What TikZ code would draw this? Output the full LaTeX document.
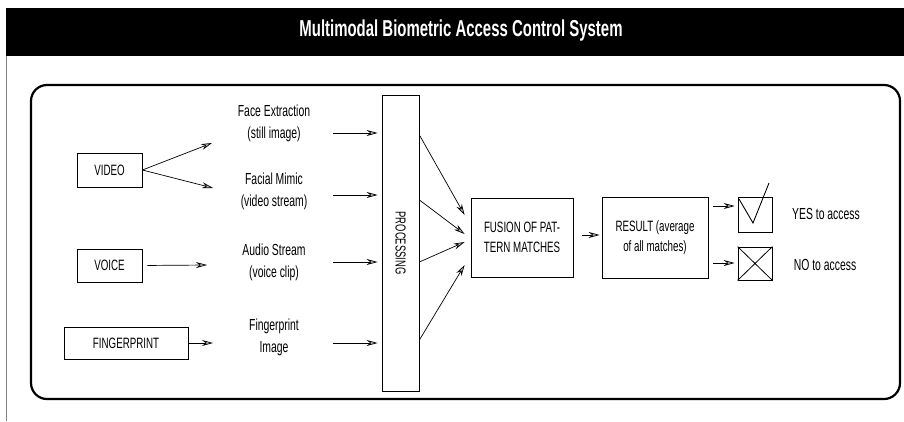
\documentclass[tikz,border=0pt]{standalone}
\usepackage{fontspec}
\setmainfont{Liberation Sans}[FakeStretch=0.65]
\usetikzlibrary{arrows.meta}

\tikzset{
  box/.style={draw, line width=0.8pt, inner sep=2pt, font=\fontsize{15}{20}\selectfont, align=center},
  lbl/.style={font=\fontsize{16}{22}\selectfont, align=center},
  arr/.style={line width=0.7pt, -{Stealth[length=11pt,width=6pt,fill=gray!50]}}
}

\begin{document}
\begin{tikzpicture}[x=1pt, y=-1pt]
 \useasboundingbox (0,0) rectangle (904,421);
 % title bar and frame
 \fill[black] (6,8) rectangle (904,56);
 \node (title) at (461,31) [text=white, font=\fontsize{23}{26}\bfseries] {Multimodal Biometric Access Control System};
 \draw[line width=0.6pt, gray] (6,56) -- (6,421);
 \draw[line width=2.2pt, rounded corners=16pt] (31,85) rectangle (900,399);

 % inputs
 \node (video) at (109.5,170)   [box, minimum width=65pt, minimum height=34pt] {VIDEO};
 \node (voice) at (109.5,265.5) [box, minimum width=65pt, minimum height=33pt] {VOICE};
 \node (finger) at (126,343)    [box, minimum width=124pt, minimum height=32pt] {FINGERPRINT};

 \node (face)  at (274,123) [lbl] {Face Extraction\\(still image)};
 \node (mimic) at (274,191) [lbl] {Facial Mimic\\(video stream)};
 \node (audio) at (274,262) [lbl] {Audio Stream\\(voice clip)};
 \node (print) at (274,337) [lbl] {Fingerprint\\Image};

 \coordinate (fe) at (212,143);
 \coordinate (fm) at (213,188);
 \coordinate (as) at (207,265);
 \coordinate (fi) at (213,343);
 \draw[arr] (video.east) -- (fe);
 \draw[arr] (video.east) -- (fm);
 \draw[arr, shorten <=5pt] (voice.east) -- (as);
 \draw[arr] (finger.east) -- (fi);

 % processing and fusion
 \node (proc) at (400.5,243) [box, minimum width=37pt, minimum height=296pt] {};
 \node at (proc.center) [rotate=-90, font=\fontsize{14.5}{16}\selectfont] {PROCESSING};
 \node (fus) at (522,237.5) [box, minimum width=102pt, minimum height=79pt] {FUSION OF PAT-\\TERN MATCHES};
 \node (res) at (655,237.5) [box, minimum width=106pt, minimum height=81pt] {RESULT (average\\of all matches)};

 \foreach \y in {133,195,262,343}
   \draw[arr, shorten >=4pt] (333,\y) -- (proc.west |- 0,\y);
 \foreach \ys/\ye in {135/215, 200/234, 262/242, 340/265}
   \draw[arr] (proc.east |- 0,\ys) -- ([xshift=-6pt]fus.west |- 0,\ye);
 \draw[arr, shorten <=9pt, shorten >=2pt] (fus.east |- 0,235) -- (res.west |- 0,235);

 % decision
 \node (yes) at (755,214.5) [draw, line width=0.6pt, minimum width=34pt, minimum height=35pt] {};
 \node (no)  at (755,263.5) [draw, line width=0.8pt, minimum width=34pt, minimum height=33pt] {};
 \draw[line width=0.9pt] (739,199) -- (753,223) -- (769,183);
 \draw[line width=0.8pt] (no.north west) -- (no.south east) (no.north east) -- (no.south west);
 \draw[arr, shorten <=5pt, shorten >=3pt] (res.east |- 0,206) -- (yes.west |- 0,206);
 \draw[arr, shorten <=5pt, shorten >=3pt] (res.east |- 0,263) -- (no.west |- 0,263);
 \node (yestxt) at (826,214) [lbl] {YES to access};
 \node (notxt)  at (825,265) [lbl] {NO to access};
\end{tikzpicture}
\end{document}
